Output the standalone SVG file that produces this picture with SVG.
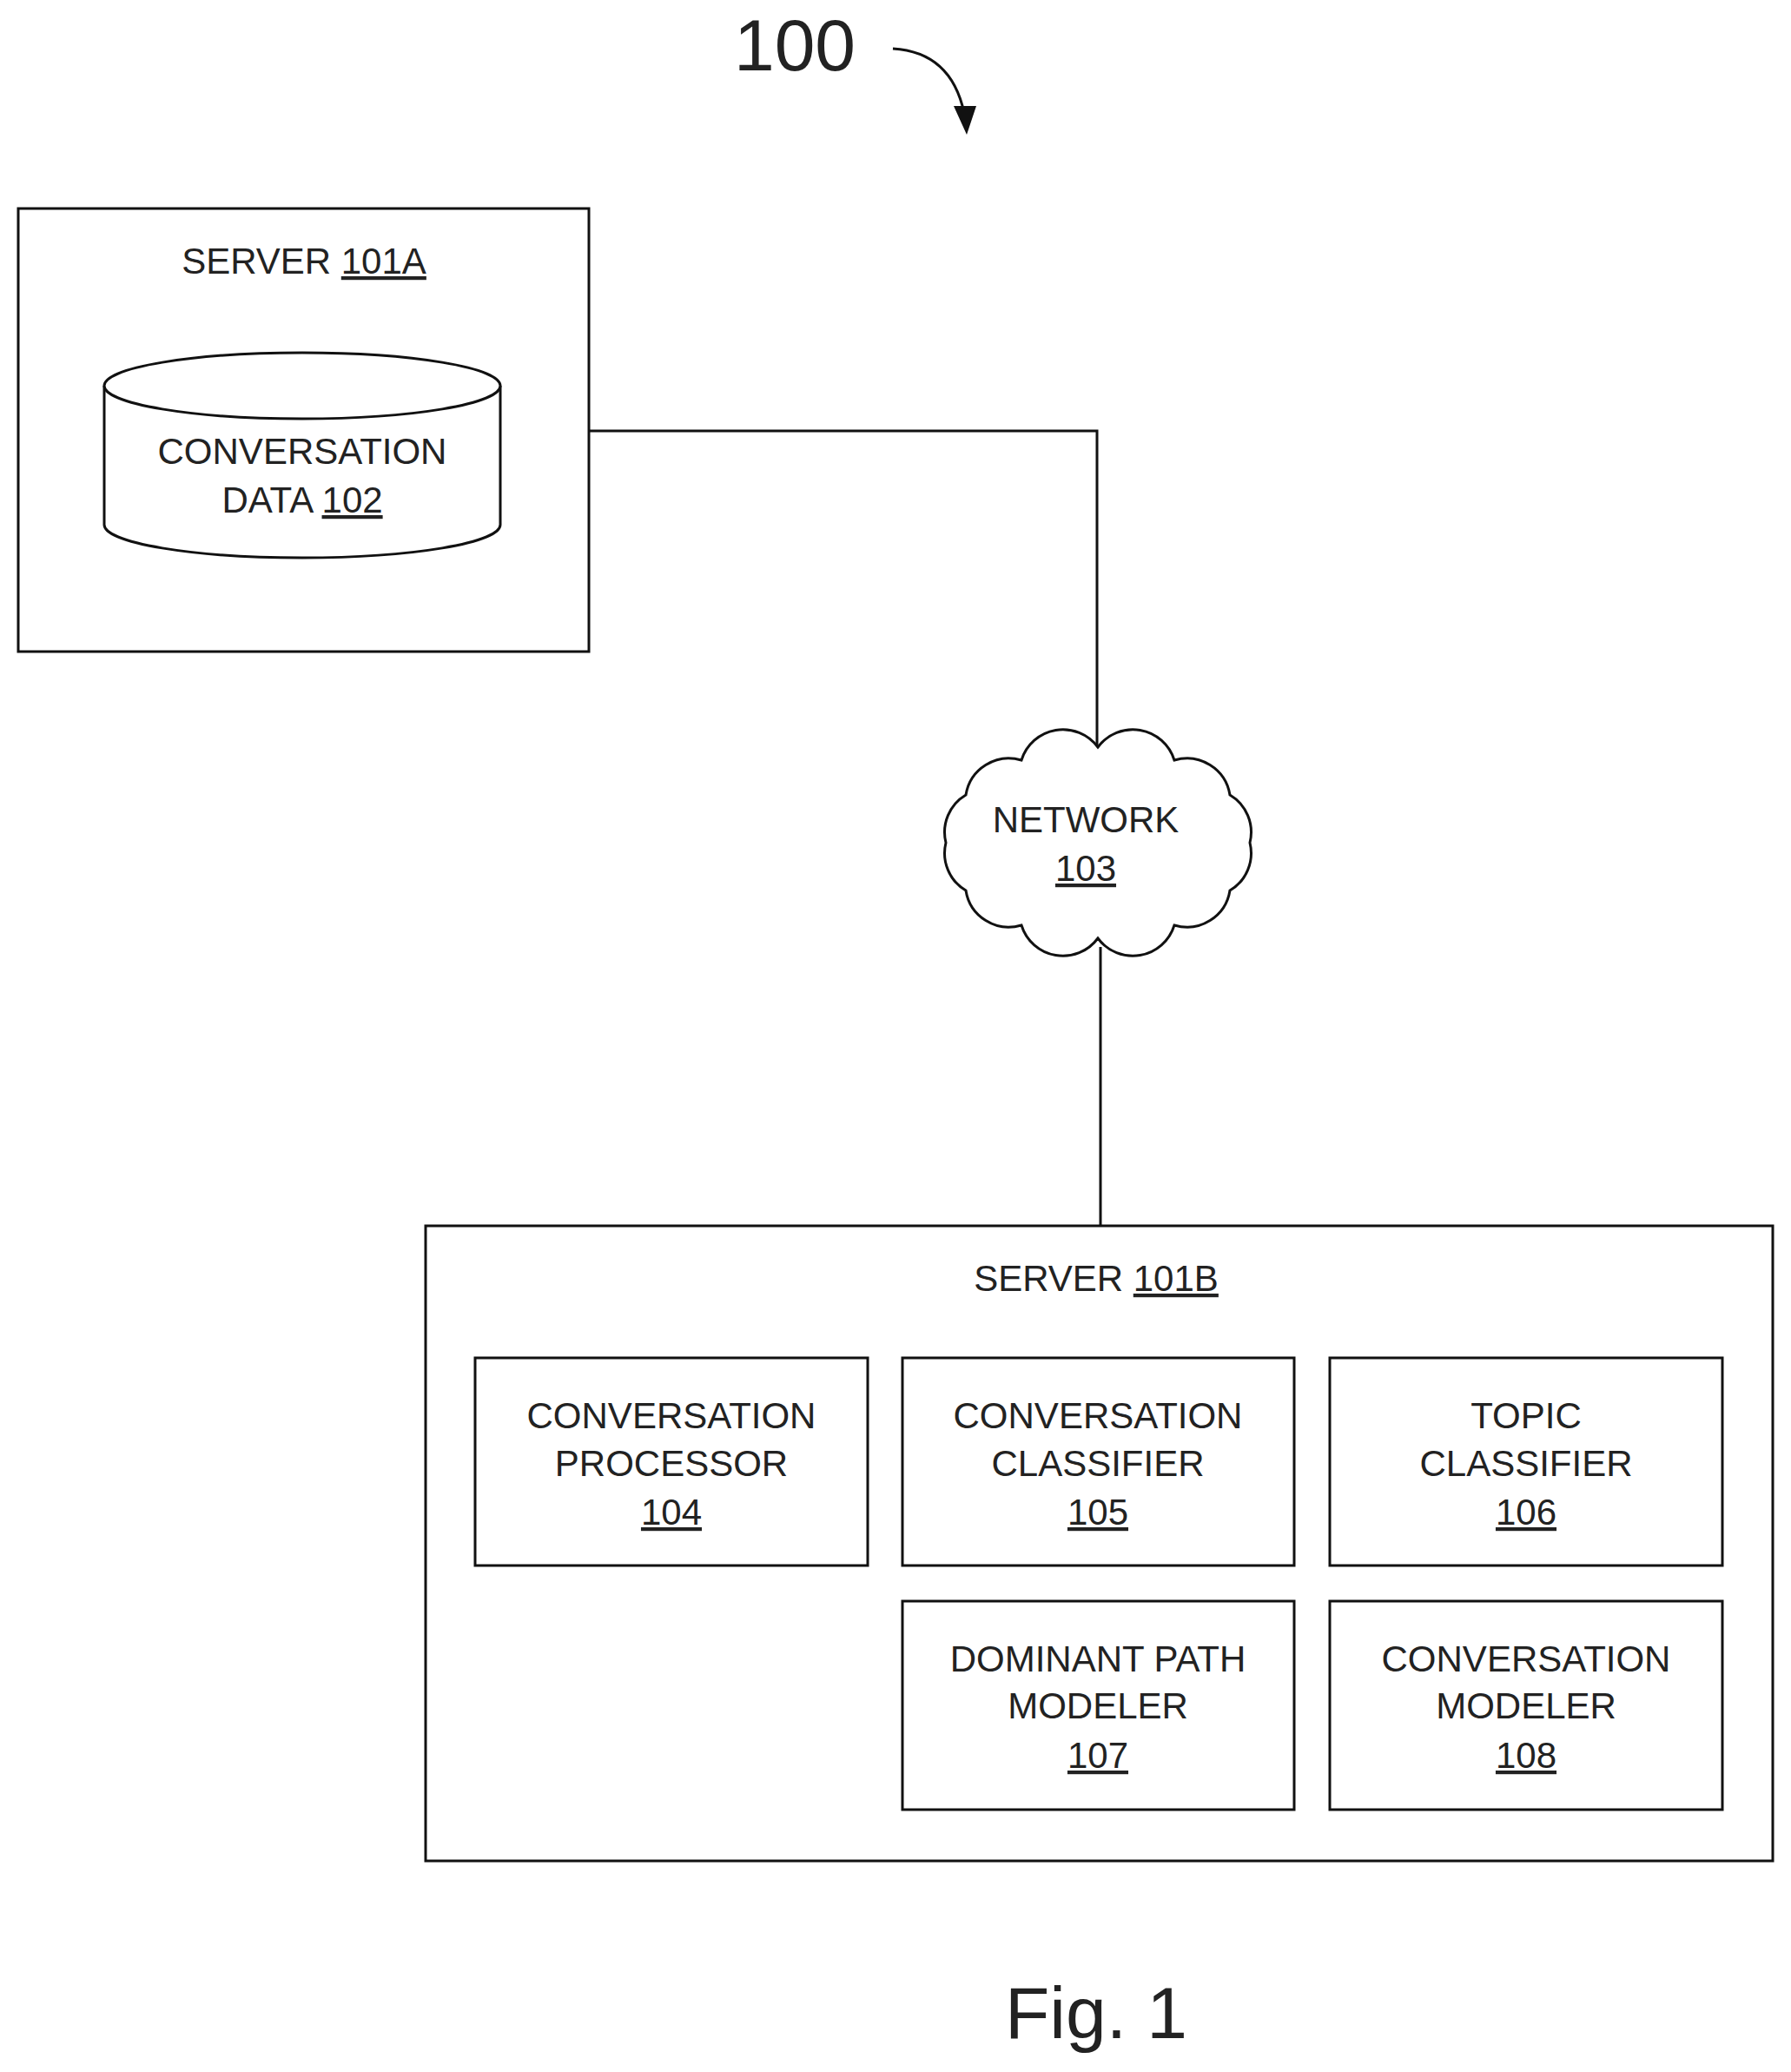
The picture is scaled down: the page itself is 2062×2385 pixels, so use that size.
<svg xmlns="http://www.w3.org/2000/svg" width="2062" height="2385" viewBox="0 0 2062 2385">
<style>
.b{fill:#fff;stroke:#111;stroke-width:3}
.t{font-family:"Liberation Sans",Arial,sans-serif;font-size:42px;fill:#222;text-anchor:middle}
.u{text-decoration:underline}
.c{fill:none;stroke:#111;stroke-width:3}
</style>
<defs><marker id="ah" markerWidth="10" markerHeight="10" refX="5" refY="5" orient="auto" markerUnits="userSpaceOnUse" viewBox="0 0 10 10"><path d="M0,0 L10,5 L0,10 z" fill="#111"/></marker></defs>
<rect width="2062" height="2385" fill="#fff"/>
<g id="label100">
<text x="915" y="81" style="font-family:'Liberation Sans',Arial,sans-serif;font-size:84px;fill:#222;text-anchor:middle">100</text>
<path d="M1028,56 Q1095,60 1110,130" fill="none" stroke="#111" stroke-width="3"/>
<path d="M1098,122 L1124,122 L1113,155 z" fill="#111"/>
</g>
<g id="connectors">
<path class="c" d="M678,496 H1263 V862"/>
<path class="c" d="M1267,1090 V1411"/>
</g>
<g id="server101A">
<rect class="b" x="21" y="240" width="657" height="510"/>
<text class="t" x="350" y="315">SERVER <tspan class="u">101A</tspan></text>
</g>
<g id="data102">
<path class="b" d="M120,444 V604 A228,38 0 0 0 576,604 V444"/>
<ellipse class="b" cx="348" cy="444" rx="228" ry="38"/>
<text class="t" x="348" y="534">CONVERSATION</text>
<text class="t" x="348" y="590">DATA <tspan class="u">102</tspan></text>
</g>
<g id="network103">
<path class="b" d="M1089,970 A50,50 0 0 1 1112,915 A50,50 0 0 1 1176,875 A50,50 0 0 1 1264,860 A50,50 0 0 1 1352,875 A50,50 0 0 1 1416,915 A50,50 0 0 1 1439,970 A50,50 0 0 1 1416,1025 A50,50 0 0 1 1352,1065 A50,50 0 0 1 1264,1080 A50,50 0 0 1 1176,1065 A50,50 0 0 1 1112,1025 A50,50 0 0 1 1089,970 z"/>
<text class="t" x="1250" y="958">NETWORK</text>
<text class="t" x="1250" y="1014"><tspan class="u">103</tspan></text>
</g>
<g id="server101B">
<rect class="b" x="490" y="1411" width="1551" height="731"/>
<text class="t" x="1262" y="1486">SERVER <tspan class="u">101B</tspan></text>
</g>
<g id="n104">
<rect class="b" x="547" y="1563" width="452" height="239"/>
<text class="t" x="773" y="1644">CONVERSATION</text><text class="t" x="773" y="1699">PROCESSOR</text><text class="t" x="773" y="1755"><tspan class="u">104</tspan></text>
</g>
<g id="n105">
<rect class="b" x="1039" y="1563" width="451" height="239"/>
<text class="t" x="1264" y="1644">CONVERSATION</text><text class="t" x="1264" y="1699">CLASSIFIER</text><text class="t" x="1264" y="1755"><tspan class="u">105</tspan></text>
</g>
<g id="n106">
<rect class="b" x="1531" y="1563" width="452" height="239"/>
<text class="t" x="1757" y="1644">TOPIC</text><text class="t" x="1757" y="1699">CLASSIFIER</text><text class="t" x="1757" y="1755"><tspan class="u">106</tspan></text>
</g>
<g id="n107">
<rect class="b" x="1039" y="1843" width="451" height="240"/>
<text class="t" x="1264" y="1924">DOMINANT PATH</text><text class="t" x="1264" y="1978">MODELER</text><text class="t" x="1264" y="2035"><tspan class="u">107</tspan></text>
</g>
<g id="n108">
<rect class="b" x="1531" y="1843" width="452" height="240"/>
<text class="t" x="1757" y="1924">CONVERSATION</text><text class="t" x="1757" y="1978">MODELER</text><text class="t" x="1757" y="2035"><tspan class="u">108</tspan></text>
</g>
<g id="caption">
<text x="1262" y="2346" style="font-family:'Liberation Sans',Arial,sans-serif;font-size:84px;fill:#222;text-anchor:middle">Fig. 1</text>
</g>
</svg>
